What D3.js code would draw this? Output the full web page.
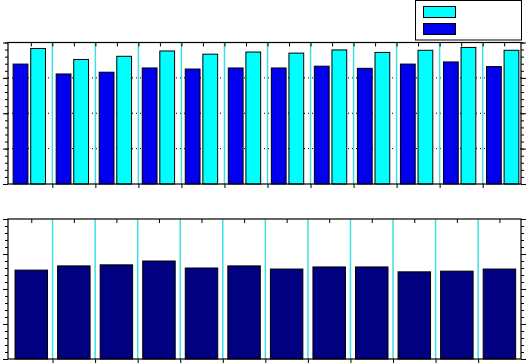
<!DOCTYPE html>
<html>
<head>
<meta charset="utf-8">
<script src="https://cdn.jsdelivr.net/npm/d3@7"></script>
<style>
body { margin: 0; background: #fff; }
svg { display: block; }
</style>
</head>
<body>
<script>
// Groups along x, same for both panels
var categories = [1, 2, 3, 4, 5, 6, 7, 8, 9, 10, 11, 12];

// Top panel: two bars per group
var topBlue = [3.39, 3.11, 3.16, 3.28, 3.25, 3.28, 3.28, 3.33, 3.27, 3.39, 3.45, 3.32];
var topCyan = [3.83, 3.52, 3.61, 3.76, 3.67, 3.73, 3.70, 3.79, 3.72, 3.78, 3.86, 3.78];

// Bottom panel: one bar per group
var bottomNavy = [2.54, 2.66, 2.69, 2.80, 2.60, 2.66, 2.57, 2.63, 2.63, 2.49, 2.51, 2.57];

// Y ticks (no labels in the original)
var yMajorTicks = [0, 1, 2, 3, 4];
var yMinorTicks = [0, 0.2, 0.4, 0.6, 0.8, 1, 1.2, 1.4, 1.6, 1.8, 2, 2.2, 2.4, 2.6, 2.8, 3, 3.2, 3.4, 3.6, 3.8, 4];
var yGridTicks = [1, 2, 3];

// Group boundaries (between categories)
var separators = [1.5, 2.5, 3.5, 4.5, 5.5, 6.5, 7.5, 8.5, 9.5, 10.5, 11.5];

var width = 526, height = 364;
var left = 8, right = 521;

var blueCol = "#0000ee", cyanCol = "#00ffff", navyCol = "#000080", sepCol = "#3fdde6";

var svg = d3.select("body").append("svg")
    .attr("width", width)
    .attr("height", height);

// Scales
var xTop = d3.scaleLinear().domain([0.5, 12.5]).range([9.3, 525.7]);
var yTop = d3.scaleLinear().domain([0, 4]).range([184, 42.5]);
var xBot = d3.scaleLinear().domain([0.5, 12.5]).range([10, 520.7]);
var yBot = d3.scaleLinear().domain([0, 4]).range([359, 219]);

var groupW = xTop(2) - xTop(1);
var inner = d3.scaleBand().domain(["blue", "cyan"])
    .range([-0.376 * groupW, 0.376 * groupW])
    .paddingInner(0.16);

// Draws ticks for one axis and removes the domain path
function tickAxis(axis, tx, ty) {
    var g = svg.append("g")
        .attr("transform", "translate(" + tx + "," + ty + ")")
        .call(axis.tickFormat(""));
    g.select(".domain").remove();
    g.selectAll("line").attr("stroke", "#000");
    return g;
}

function drawFrame(x, y, topTickValues) {
    // left / right ticks point outward
    tickAxis(d3.axisLeft(y).tickValues(yMinorTicks).tickSize(3), left, 0);
    tickAxis(d3.axisLeft(y).tickValues(yMajorTicks).tickSize(5), left, 0);
    tickAxis(d3.axisRight(y).tickValues(yMinorTicks).tickSize(3), right, 0);
    tickAxis(d3.axisRight(y).tickValues(yMajorTicks).tickSize(5), right, 0);
    // bottom ticks at the group boundaries, top ticks point inward
    tickAxis(d3.axisBottom(x).tickValues(separators).tickSize(4), 0, y(0));
    tickAxis(d3.axisBottom(x).tickValues(topTickValues).tickSize(4), 0, y(4));

    svg.append("rect")
        .attr("x", left)
        .attr("y", y(4))
        .attr("width", right - left)
        .attr("height", y(0) - y(4))
        .attr("fill", "none")
        .attr("stroke", "#000")
        .attr("stroke-width", 1.2);
}

function drawSeparators(x, y) {
    svg.append("g").selectAll("line")
        .data(separators)
        .enter().append("line")
        .attr("x1", function (d) { return x(d); })
        .attr("x2", function (d) { return x(d); })
        .attr("y1", y(4))
        .attr("y2", y(0))
        .attr("stroke", sepCol)
        .attr("stroke-width", 1.5);
}

// ---- Top panel ----
// dotted grid, only visible in the gaps
svg.append("g").selectAll("line")
    .data(yGridTicks)
    .enter().append("line")
    .attr("x1", left).attr("x2", right)
    .attr("y1", function (d) { return yTop(d); })
    .attr("y2", function (d) { return yTop(d); })
    .attr("stroke", "#000")
    .attr("stroke-dasharray", "1,3");

drawSeparators(xTop, yTop);

var topData = categories.map(function (c, i) {
    return { cat: c, blue: topBlue[i], cyan: topCyan[i] };
});

var groups = svg.append("g").selectAll("g")
    .data(topData)
    .enter().append("g")
    .attr("transform", function (d) { return "translate(" + (xTop(d.cat) - 1.5) + ",0)"; });

groups.selectAll("rect")
    .data(function (d) {
        return [{ key: "blue", v: d.blue }, { key: "cyan", v: d.cyan }];
    })
    .enter().append("rect")
    .attr("x", function (d) { return inner(d.key); })
    .attr("width", inner.bandwidth())
    .attr("y", function (d) { return yTop(d.v); })
    .attr("height", function (d) { return yTop(0) - yTop(d.v); })
    .attr("fill", function (d) { return d.key === "blue" ? blueCol : cyanCol; })
    .attr("stroke", "#000")
    .attr("stroke-width", 1);

drawFrame(xTop, yTop, categories.concat(separators));

// ---- Bottom panel ----
drawSeparators(xBot, yBot);

var barW = 0.763 * (xBot(2) - xBot(1));
svg.append("g").selectAll("rect")
    .data(bottomNavy)
    .enter().append("rect")
    .attr("x", function (d, i) { return xBot(categories[i]) - barW / 2; })
    .attr("width", barW)
    .attr("y", function (d) { return yBot(d); })
    .attr("height", function (d) { return yBot(0) - yBot(d); })
    .attr("fill", navyCol)
    .attr("stroke", "#000")
    .attr("stroke-width", 1);

drawFrame(xBot, yBot, categories);

// ---- Legend (entries have no text) ----
var legend = svg.append("g");
legend.append("rect")
    .attr("x", 415.5).attr("y", 0.5)
    .attr("width", 106).attr("height", 39.5)
    .attr("fill", "#fff")
    .attr("stroke", "#000");

var legendKeys = [cyanCol, blueCol];
legend.selectAll("rect.key")
    .data(legendKeys)
    .enter().append("rect")
    .attr("class", "key")
    .attr("x", 423.5)
    .attr("y", function (d, i) { return 6.5 + i * 17; })
    .attr("width", 32)
    .attr("height", 11)
    .attr("fill", function (d) { return d; })
    .attr("stroke", "#000");
</script>
</body>
</html>
